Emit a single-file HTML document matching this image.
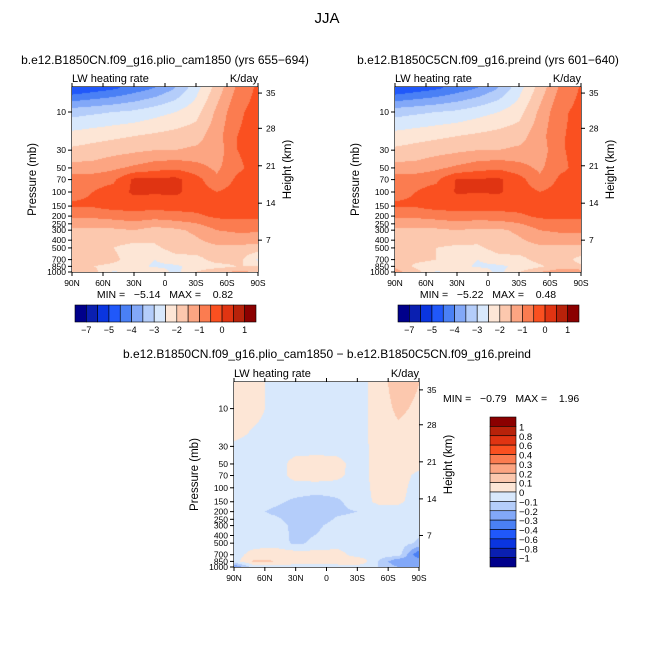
<!DOCTYPE html>
<html><head><meta charset="utf-8"><style>
body{margin:0;background:#fff;width:654px;height:654px;overflow:hidden;position:relative;font-family:"Liberation Sans",sans-serif}
canvas{position:absolute}
svg{position:absolute;left:0;top:0}
text{white-space:pre}
</style></head><body>
<svg id="s" width="654" height="654" font-family="Liberation Sans, sans-serif"></svg>
<script>
// ---------- data ----------
const lats=["90N","70N","50N","30N","10N","10S","30S","50S","70S","90S"];
const levels=[5,10,20,30,50,70,100,150,200,300,500,700,850,1000];
const fieldA=[
[-5.0,-4.8,-4.6,-4.3,-4.0,-3.5,-2.7,-1.8,-0.9,-0.4],
[-3.2,-3.1,-3.0,-2.9,-2.7,-2.5,-2.2,-1.4,-0.6,-0.3],
[-2.3,-2.2,-2.1,-2.0,-1.9,-1.8,-1.7,-1.2,-0.5,-0.3],
[-1.9,-1.8,-1.7,-1.6,-1.5,-1.5,-1.4,-1.3,-0.5,-0.3],
[-1.3,-1.3,-1.1,-0.9,-0.7,-0.6,-0.8,-1.1,-0.6,-0.3],
[-0.7,-0.7,-0.6,0.1,0.1,0.15,-0.3,-0.9,-0.4,-0.3],
[-0.6,-0.5,-0.3,0.1,0.05,0.1,-0.2,-0.5,-0.3,-0.3],
[-0.45,-0.45,-0.3,-0.3,-0.3,-0.3,-0.3,-0.3,-0.3,-0.3],
[-0.9,-0.9,-0.8,-0.7,-0.8,-0.7,-0.6,-0.4,-0.4,-0.4],
[-1.6,-1.6,-1.6,-1.5,-1.7,-1.6,-1.4,-1.0,-0.9,-0.9],
[-1.8,-1.8,-2.0,-2.2,-2.1,-1.8,-1.7,-1.6,-1.6,-1.7],
[-1.8,-1.8,-1.9,-2.2,-2.5,-2.2,-2.2,-1.8,-1.8,-2.6],
[-1.7,-2.0,-2.1,-2.3,-2.6,-2.6,-2.3,-2.2,-2.0,-2.0],
[-1.6,-1.8,-2.6,-2.2,-2.0,-2.7,-2.0,-1.6,-1.4,-1.5]];
const fieldB=[
[-5.0,-4.8,-4.6,-4.3,-4.0,-3.5,-2.7,-1.8,-0.9,-0.45],
[-3.2,-3.1,-3.0,-2.9,-2.7,-2.5,-2.2,-1.4,-0.6,-0.35],
[-2.3,-2.2,-2.1,-2.0,-1.9,-1.8,-1.7,-1.2,-0.55,-0.35],
[-1.9,-1.8,-1.7,-1.6,-1.5,-1.5,-1.4,-1.3,-0.55,-0.35],
[-1.3,-1.3,-1.1,-0.9,-0.7,-0.6,-0.8,-1.1,-0.6,-0.35],
[-0.7,-0.7,-0.6,0.05,0.05,0.1,-0.3,-0.9,-0.4,-0.35],
[-0.6,-0.5,-0.3,0.05,0.02,0.05,-0.2,-0.5,-0.3,-0.35],
[-0.45,-0.45,-0.3,-0.3,-0.3,-0.3,-0.3,-0.3,-0.3,-0.35],
[-0.9,-0.9,-0.8,-0.7,-0.75,-0.7,-0.6,-0.4,-0.4,-0.4],
[-1.6,-1.6,-1.6,-1.5,-1.6,-1.6,-1.4,-1.0,-0.9,-0.9],
[-1.8,-1.8,-2.0,-2.1,-2.1,-1.8,-1.7,-1.6,-1.6,-1.6],
[-1.8,-1.9,-2.0,-2.2,-2.5,-2.2,-2.2,-1.8,-1.7,-2.2],
[-1.6,-2.1,-2.2,-2.3,-2.6,-2.6,-2.4,-2.1,-1.7,-1.9],
[-1.3,-1.8,-2.6,-2.2,-2.0,-2.7,-2.0,-1.5,-1.2,-1.2]];
const fieldD=[
[0.05,0.05,-0.05,-0.05,-0.05,-0.05,-0.05,0.05,0.15,0.1],
[0.05,0.05,-0.05,-0.05,-0.05,-0.05,-0.05,0.05,0.12,0.08],
[0.05,-0.02,-0.05,-0.05,-0.05,-0.05,-0.05,0.05,0.08,0.05],
[-0.03,-0.05,-0.05,-0.05,-0.05,-0.05,-0.05,0.04,0.06,0.05],
[-0.05,-0.05,-0.05,0.04,0.05,0.04,-0.05,0.04,0.05,0.04],
[-0.05,-0.05,-0.05,0.04,0.05,0.03,-0.05,0.04,0.05,-0.03],
[-0.05,-0.05,-0.05,-0.05,-0.05,-0.05,-0.05,0.03,0.04,-0.05],
[-0.05,-0.05,-0.08,-0.12,-0.15,-0.12,-0.05,0.02,0.02,-0.05],
[-0.05,-0.08,-0.12,-0.15,-0.2,-0.12,-0.1,-0.05,-0.05,-0.05],
[-0.05,-0.05,-0.05,-0.13,-0.12,-0.06,-0.05,-0.05,-0.05,-0.05],
[-0.05,-0.05,-0.05,-0.12,-0.08,-0.05,-0.05,-0.05,-0.05,-0.12],
[-0.05,0.05,0.08,0.06,0.05,0.05,-0.05,-0.05,-0.05,-0.4],
[-0.05,0.12,0.1,0.05,0.05,0.06,0.1,-0.1,-0.3,-0.2],
[-0.3,-0.05,-0.05,-0.05,-0.05,-0.05,-0.05,-0.1,-0.2,-0.3]];
const boundsAbs=[-7,-6,-5,-4.5,-4,-3.5,-3,-2.5,-2,-1.5,-1,-0.5,0,0.5,1];
const labelsAbs=["−7","−5","−4","−3","−2","−1","0","1"];
const boundsDiff=[-1,-0.8,-0.6,-0.4,-0.3,-0.2,-0.1,0,0.1,0.2,0.3,0.4,0.6,0.8,1];
const labelsDiff=["1","0.8","0.6","0.4","0.3","0.2","0.1","0","−0.1","−0.2","−0.3","−0.4","−0.6","−0.8","−1"];
const pTicks=[10,30,50,70,100,150,200,250,300,400,500,700,850,1000];
const hTicks=[35,28,21,14,7];
const hTickP=[5.8,16,47,138,400];
const latTicks=["90N","60N","30N","0","30S","60S","90S"];
const colors=["#00008b","#0a1fb0","#0a35e0","#2058fa","#4a80f5","#82a8f8","#b4cdfa","#d8e8fc","#fde6d6","#fcc8ae","#fca582","#fb7c50","#fa5020","#e03412","#b8220a","#8b0000"];

// ---------- helpers ----------
const S=document.getElementById('s'),NS="http://www.w3.org/2000/svg";
function mk(tag,at,txt){const e=document.createElementNS(NS,tag);for(const k in at)e.setAttribute(k,at[k]);if(txt!==undefined)e.textContent=txt;S.appendChild(e);return e;}
function idx(v,b){let i=0;while(i<b.length&&v>=b[i])i++;return i;}
function interp(f,fx,fy){const x0=Math.min(Math.floor(fx),8),y0=Math.min(Math.floor(fy),12);const tx=fx-x0,ty=fy-y0;
 return f[y0][x0]*(1-tx)*(1-ty)+f[y0][x0+1]*tx*(1-ty)+f[y0+1][x0]*(1-tx)*ty+f[y0+1][x0+1]*tx*ty;}
const lp=levels.map(p=>Math.log10(p));
function pIndex(p){const l=Math.log10(p);for(let i=0;i<lp.length-1;i++){if(l<=lp[i+1])return i+(l-lp[i])/(lp[i+1]-lp[i]);}return lp.length-1;}

function panel(name,f,bounds,X,Y,W,H,dec){
 const yP=p=>Y+H-(3-Math.log10(p))*dec;
 const pTop=Math.pow(10,3-H/dec);
 const c=document.createElement('canvas');c.width=W;c.height=H;c.style.left=X+'px';c.style.top=Y+'px';
 
 
 document.body.appendChild(c);const g=c.getContext('2d');
 for(let py=0;py<H;py++){const p=Math.pow(10,Math.log10(pTop)+(py+0.5)/dec);const fy=Math.max(0,pIndex(Math.max(p,5)));
  for(let px=0;px<W;px++){const fx=(px+0.5)/W*9;g.fillStyle=colors[idx(interp(f,fx,fy),bounds)];g.fillRect(px,py,1,1);}}
 const r=mk('rect',{x:X,y:Y,width:W,height:H,fill:'none',stroke:'#000','stroke-width':1.2});
 
 
 pTicks.forEach(p=>{const y=yP(p);mk('line',{x1:X-4,y1:y,x2:X,y2:y,stroke:'#000'});
  const t=mk('text',{x:X-6,y:y+3,'font-size':8.5,'text-anchor':'end'},p);
  
  });
 hTicks.forEach((h,i)=>{const y=yP(hTickP[i]);mk('line',{x1:X+W,y1:y,x2:X+W+4,y2:y,stroke:'#000'});
  const t=mk('text',{x:X+W+8,y:y+3,'font-size':8.5},h);
  
  });
 latTicks.forEach((l,i)=>{const x=X+i*W/6;mk('line',{x1:x,y1:Y+H,x2:x,y2:Y+H+4,stroke:'#000'});mk('line',{x1:x,y1:Y,x2:x,y2:Y-4,stroke:'#000'});
  const t=mk('text',{x:x,y:Y+H+14,'font-size':8.5,'text-anchor':'middle'},l);
  
  });
 let t=mk('text',{x:X,y:Y-5,'font-size':11},'LW heating rate');
 
 
 t=mk('text',{x:X+W,y:Y-5,'font-size':11,'text-anchor':'end'},'K/day');
 
 
 t=mk('text',{x:X-36,y:Y+H/2,'font-size':11.5,'text-anchor':'middle',transform:`rotate(-90 ${X-36} ${Y+H/2})`},'Pressure (mb)');
 
 
 t=mk('text',{x:X+W+33,y:Y+H/2-10,'font-size':11.5,'text-anchor':'middle',transform:`rotate(-90 ${X+W+33} ${Y+H/2-10})`},'Height (km)');
 
 
}
function hbar(name,X,Y,W,H){const bw=W/16;colors.forEach((c,i)=>{const r=mk('rect',{x:X+i*bw,y:Y,width:bw,height:H,fill:c,stroke:'#000','stroke-width':0.6});
 
 });
 labelsAbs.forEach((l,i)=>{const t=mk('text',{x:X+(2*i+1)*bw,y:Y+H+11,'font-size':9,'text-anchor':'middle'},l);
 
 });}

// ---------- titles ----------
let t=mk('text',{x:327,y:23,'font-size':15,'text-anchor':'middle'},'JJA');


t=mk('text',{x:165,y:64,'font-size':12,'text-anchor':'middle'},'b.e12.B1850CN.f09_g16.plio_cam1850 (yrs 655−694)');


t=mk('text',{x:488,y:64,'font-size':12,'text-anchor':'middle'},'b.e12.B1850C5CN.f09_g16.preind (yrs 601−640)');


t=mk('text',{x:327,y:358,'font-size':12,'text-anchor':'middle'},'b.e12.B1850CN.f09_g16.plio_cam1850 − b.e12.B1850C5CN.f09_g16.preind');



panel('left-panel',fieldA,boundsAbs,72,87,186,185,80);
panel('right-panel',fieldB,boundsAbs,395,87,186,185,80);
panel('diff-panel',fieldD,boundsDiff,234,382,185,185,79.2);

t=mk('text',{x:165,y:298,'font-size':10.5,'text-anchor':'middle'},'MIN =   −5.14   MAX =    0.82');


t=mk('text',{x:488,y:298,'font-size':10.5,'text-anchor':'middle'},'MIN =   −5.22   MAX =    0.48');


t=mk('text',{x:443,y:402,'font-size':10.5},'MIN =   −0.79   MAX =    1.96');



hbar('left-colorbar',75,305,181,17);
hbar('right-colorbar',398,305,181,17);

// vertical colorbar (diff)
const vx=490,vy=417,vw=26,vh=150,bh=vh/16;
colors.slice().reverse().forEach((c,i)=>{const r=mk('rect',{x:vx,y:vy+i*bh,width:vw,height:bh,fill:c,stroke:'#000','stroke-width':0.6});
 
 });
labelsDiff.forEach((l,i)=>{const tt=mk('text',{x:vx+vw+3,y:vy+(i+1)*bh+4,'font-size':9.5},l);
 
 });
</script>
</body></html>
